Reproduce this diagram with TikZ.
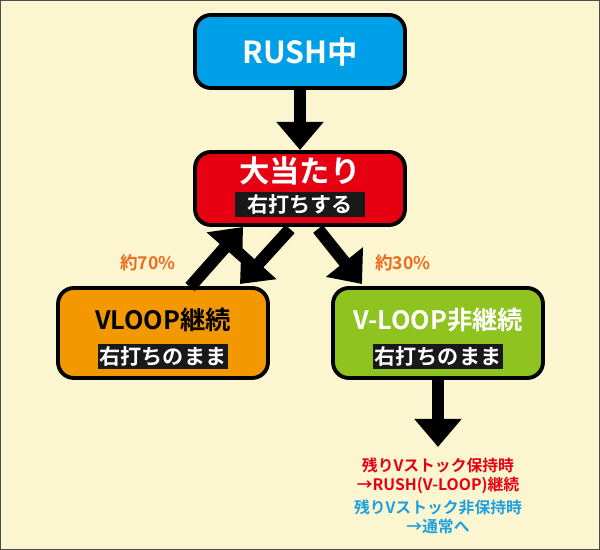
\documentclass[tikz,border=0pt]{standalone}
\usepackage{fontspec}
\setmainfont{Noto Sans CJK JP}[BoldFont={Noto Sans CJK JP Bold}]
\usetikzlibrary{arrows.meta}
\definecolor{bg}{HTML}{FBF6D0}
\definecolor{cblue}{HTML}{00A0E9}
\definecolor{cred}{HTML}{E60012}
\definecolor{corange}{HTML}{F39800}
\definecolor{cgreen}{HTML}{8FC31F}
\definecolor{tred}{HTML}{E60012}
\definecolor{tblue}{HTML}{1EA0E0}
\definecolor{torange}{HTML}{EE6A1E}
\tikzset{
 box/.style={draw=black,line width=2.2pt,rounded corners=9pt,minimum width=4.2cm,text=white,font=\bfseries},
 tag/.style={fill=black!90,text=white,font=\bfseries\large,minimum height=0.5cm,minimum width=2.6cm,inner sep=1pt},
 arr/.style={line width=7pt,-{Triangle[length=16pt,width=26pt]}},
 pct/.style={text=torange,font=\bfseries},
 note/.style={font=\bfseries\small,align=center,inner sep=0pt}
}
\begin{document}
\begin{tikzpicture}[x=0.02cm,y=-0.02cm]
\useasboundingbox (0,0) rectangle (600,550);
\draw[fill=bg,draw=black!70,line width=0.6pt] (0.5,0.5) rectangle (599.5,549.5);
\node[box,fill=cblue,minimum height=1.46cm,font=\bfseries\LARGE] (rush) at (300,51.5) {RUSH中};
\node[box,fill=cred,minimum height=1.46cm] (hit) at (300,188.5) {};
\node[text=white,font=\bfseries\LARGE] (hitt) at (300,171) {大当たり};
\node[tag] (hitl) at (300,204.5) {右打ちする};
\node[box,fill=corange,minimum height=1.8cm] (vl) at (163,333) {};
\node[text=black,font=\bfseries\Large] (vlt) at (163,320) {VLOOP継続};
\node[tag] (vll) at (163,356.5) {右打ちのまま};
\node[box,fill=cgreen,minimum height=1.8cm] (nv) at (438,333) {};
\node[text=white,font=\bfseries\Large] (nvt) at (438,320) {V-LOOP非継続};
\node[tag] (nvl) at (438,356.5) {右打ちのまま};
\coordinate (a1) at (300,90); \coordinate (a2) at (300,150);
\draw[arr] (a1) -- (a2);
\coordinate (b1) at (190,287); \coordinate (b2) at (243,227);
\draw[arr] (b1) -- (b2);
\coordinate (c1) at (290,229); \coordinate (c2) at (240,284);
\draw[arr] (c1) -- (c2);
\coordinate (d1) at (318,229); \coordinate (d2) at (362,284);
\draw[arr] (d1) -- (d2);
\coordinate (e1) at (438,380); \coordinate (e2) at (438,447);
\draw[arr] (e1) -- (e2);
\node[pct] (p70) at (148,263) {約70\%};
\node[pct] (p30) at (403,263) {約30\%};
\node[note,text=tred] (n1) at (438,476) {残りVストック保持時\\→RUSH(V-LOOP)継続};
\node[note,text=tblue] (n2) at (438,517) {残りVストック非保持時\\→通常へ};
\end{tikzpicture}
\end{document}
